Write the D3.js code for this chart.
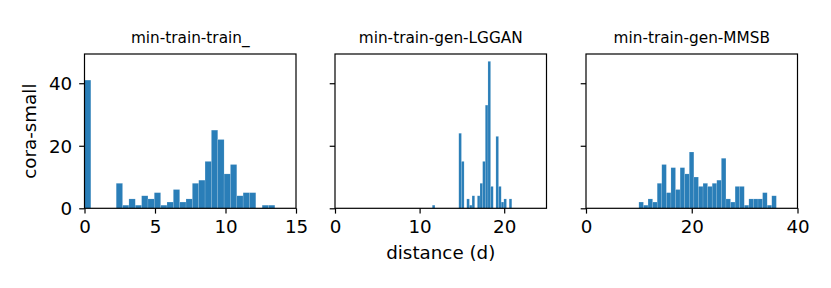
<!DOCTYPE html>
<html>
<head>
<meta charset="utf-8">
<script src="https://cdn.jsdelivr.net/npm/d3@7"></script>
<style>
  body { margin: 0; background: #fff; }
  svg text { font-family: "DejaVu Sans", sans-serif; fill: #000; }
</style>
</head>
<body>
<svg width="831" height="288"></svg>
<script>
// panel titles
var titles = ["min-train-train_", "min-train-gen-LGGAN", "min-train-gen-MMSB"];

// histogram counts, 30 bins each
var trainCounts = [41,0,0,0,0,8,1,3,1,4,3,5,1,2,6,2,3,8,9,15,25,22,11,14,4,5,5,0,1,1];
var lgganCounts = [1,0,0,0,0,0,0,0,0,0,24,15,0,3,1,4,0,4,8,15,33,47,7,0,23,7,2,3,0,3];
var mmsbCounts  = [2,1,3,2,8,14,5,13,6,13,11,18,10,7,8,7,8,9,16,3,2,7,7,1,3,3,3,5,1,4];

// min / max of the distance values in each panel (bins span this)
var trainRange = [0, 13.5];
var lgganRange = [11.5, 20.9];
var mmsbRange  = [10, 36];

// axis domains and ticks
var xDomains = [[0, 15], [0, 25], [0, 40]];
var xTicks = [[0, 5, 10, 15], [0, 10, 20], [0, 20, 40]];
var yTicks = [0, 20, 40];
var yMax = 47 * 1.05;

var yLabel = "cora-small";
var xLabel = "distance (d)";

var counts = [trainCounts, lgganCounts, mmsbCounts];
var ranges = [trainRange, lgganRange, mmsbRange];

var svg = d3.select("svg");
var lefts = [84.5, 335, 586];
var axW = 211.5, axTop = 54, axBottom = 208.3;
var tickLen = 5.3, tickFont = 18.3;
var color = "#1f77b4";

var y = d3.scaleLinear().domain([0, yMax]).range([axBottom, axTop]);

for (var p = 0; p < 3; p++) {
  var x = d3.scaleLinear().domain(xDomains[p]).range([lefts[p], lefts[p] + axW]);
  var c = counts[p], r = ranges[p];
  var w = (r[1] - r[0]) / c.length;
  var bins = c.map(function(v, i) { return { x0: r[0] + i * w, x1: r[0] + (i + 1) * w, n: v }; });

  var g = svg.append("g");
  // bars
  g.selectAll("rect.bar")
    .data(bins.filter(function(d) { return d.n > 0; }))
    .enter().append("rect")
    .attr("class", "bar")
    .attr("x", function(d) { return x(d.x0); })
    .attr("y", function(d) { return y(d.n); })
    .attr("width", function(d) { return x(d.x1) - x(d.x0); })
    .attr("height", function(d) { return y(0) - y(d.n); })
    .attr("fill", color)
    .attr("fill-opacity", 0.95)
    .attr("stroke", "#fff")
    .attr("stroke-opacity", 0.25)
    .attr("stroke-width", 0.5);

  // x axis
  var xa = g.append("g")
    .attr("transform", "translate(0," + axBottom + ")")
    .call(d3.axisBottom(x).tickValues(xTicks[p]).tickSize(tickLen).tickPadding(5.3).tickFormat(d3.format("d")));
  xa.select(".domain").remove();
  xa.selectAll("line").attr("stroke", "#000").attr("stroke-width", 1.2);
  xa.selectAll("text").attr("font-size", tickFont).attr("fill", "#000")
    .attr("font-family", "DejaVu Sans").attr("dy", "0.78em");

  // y axis (labels only on first panel)
  var ya = g.append("g")
    .attr("transform", "translate(" + lefts[p] + ",0)")
    .call(d3.axisLeft(y).tickValues(yTicks).tickSize(tickLen).tickPadding(7)
      .tickFormat(p == 0 ? d3.format("d") : function() { return ""; }));
  ya.select(".domain").remove();
  ya.selectAll("line").attr("stroke", "#000").attr("stroke-width", 1.2);
  ya.selectAll("text").attr("font-size", tickFont).attr("fill", "#000")
    .attr("font-family", "DejaVu Sans").attr("dy", "0.36em");

  // frame
  g.append("rect")
    .attr("x", lefts[p]).attr("y", axTop)
    .attr("width", axW).attr("height", axBottom - axTop)
    .attr("fill", "none").attr("stroke", "#000").attr("stroke-width", 1.2);

  // title
  g.append("text")
    .attr("x", lefts[p] + axW / 2).attr("y", 42.5)
    .attr("text-anchor", "middle")
    .attr("font-size", 15.3)
    .text(titles[p]);
}

svg.append("text")
  .attr("transform", "translate(36," + (axTop + axBottom) / 2 + ") rotate(-90)")
  .attr("text-anchor", "middle")
  .attr("font-size", tickFont)
  .text(yLabel);

svg.append("text")
  .attr("x", lefts[1] + axW / 2).attr("y", 259)
  .attr("text-anchor", "middle")
  .attr("font-size", tickFont)
  .text(xLabel);
</script>
</body>
</html>
